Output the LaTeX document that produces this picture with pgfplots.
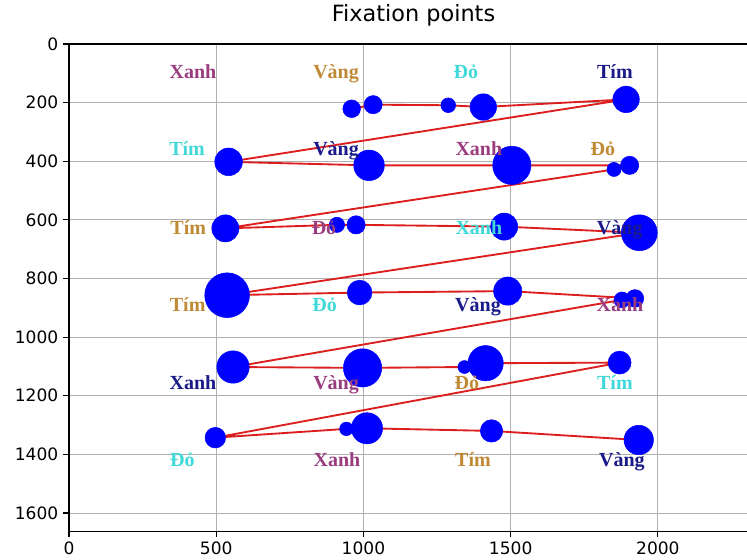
\documentclass[border=0pt]{standalone}
\usepackage{fontspec}
\setmainfont{DejaVu Sans}
\newfontfamily\tnr{Liberation Serif}
\usepackage{pgfplots}
\usepackage{pgfplotstable}
\pgfplotsset{compat=1.18}
\definecolor{mauve}{RGB}{154,61,126}
\definecolor{tanw}{RGB}{192,138,53}
\definecolor{cyanw}{RGB}{64,216,216}
\definecolor{navyw}{RGB}{26,26,138}
\definecolor{redl}{RGB}{220,30,30}
\definecolor{gridc}{RGB}{176,176,176}

\pgfplotstableread{
x y r
960 221 30
1033 207 31
1288 209 25
1407 215 45
1892 189 45
542 402 47
1019 414 52
1504 414 65
1904 414 31
1851 428 24
531 629 46
910 617 26
975 617 31
1478 623 46
1937 644 61
537 857 76
987 848 42
1490 843 48
1922 868 30
1878 873 27
557 1102 55
997 1105 65
1343 1102 22
1415 1089 60
1870 1087 39
497 1343 35
942 1313 23
1012 1311 53
1435 1320 38
1935 1351 50
}\fix

\pgfplotstableread{
x y w
421 117 Xanh
1392 381 Xanh
866 649 Đỏ
1871 911 Xanh
907 1179 Vàng
910 1443 Xanh
}\wmauve
\pgfplotstableread{
x y w
907 117 Vàng
1813 381 Đỏ
405 649 Tím
403 911 Tím
1351 1179 Đỏ
1372 1443 Tím
}\wtan
\pgfplotstableread{
x y w
1348 117 Đỏ
401 381 Tím
1392 649 Xanh
868 911 Đỏ
1854 1179 Tím
385 1443 Đỏ
}\wcyan
\pgfplotstableread{
x y w
1854 117 Tím
907 381 Vàng
1870 649 Vàng
1389 911 Vàng
421 1179 Xanh
1878 1443 Vàng
}\wnavy

\begin{document}
\begin{tikzpicture}
\begin{axis}[
  set layers,
  scale only axis,
  width=516.75pt, height=365.6pt,
  xmin=0, xmax=2340, ymin=0, ymax=1663,
  y dir=reverse,
  xtick={0,500,1000,1500,2000},
  ytick={0,200,400,600,800,1000,1200,1400,1600},
  grid=major,
  major grid style={gridc, line width=0.6pt},
  axis line style={black, line width=0.9pt},
  tick align=outside,
  major tick length=4.5pt,
  tick style={black, line width=0.8pt},
  xtick pos=left, ytick pos=left,
  ticklabel style={font=\fontsize{12.8}{12.8}\selectfont},
  /pgf/number format/assume math mode=true,
  /pgf/number format/1000 sep={},
  title={Fixation points},
  title style={font=\fontsize{16.8}{16.8}\selectfont, at={(0.5,1)}, anchor=base, yshift=10.5pt},
  clip=true,
]
\addplot[scatter, only marks, mark=*, on layer=axis background,
  scatter/use mapped color={draw=blue, fill=blue},
  visualization depends on={0.2208*\thisrow{r} \as \rad},
  scatter/@pre marker code/.append style={/tikz/mark size=\rad}]
  table[x=x, y=y] {\fix};
\addplot[only marks, mark=none, on layer=axis background, point meta=explicit symbolic,
  nodes near coords, nodes near coords style={anchor=base, text=mauve, font=\tnr\bfseries\fontsize{15}{15}\selectfont, inner sep=0pt}]
  table[x=x, y=y, meta=w] {\wmauve};
\addplot[only marks, mark=none, on layer=axis background, point meta=explicit symbolic,
  nodes near coords, nodes near coords style={anchor=base, text=tanw, font=\tnr\bfseries\fontsize{15}{15}\selectfont, inner sep=0pt}]
  table[x=x, y=y, meta=w] {\wtan};
\addplot[only marks, mark=none, on layer=axis background, point meta=explicit symbolic,
  nodes near coords, nodes near coords style={anchor=base, text=cyanw, font=\tnr\bfseries\fontsize{15}{15}\selectfont, inner sep=0pt}]
  table[x=x, y=y, meta=w] {\wcyan};
\addplot[only marks, mark=none, on layer=axis background, point meta=explicit symbolic,
  nodes near coords, nodes near coords style={anchor=base, text=navyw, font=\tnr\bfseries\fontsize{15}{15}\selectfont, inner sep=0pt}]
  table[x=x, y=y, meta=w] {\wnavy};
\addplot[redl, line width=1.4pt, no marks] table[x=x, y=y] {\fix};
\coordinate (BBnw) at (axis description cs:0,1);
\coordinate (BBse) at (axis description cs:1,0);
\end{axis}
\pgfresetboundingbox
\path[use as bounding box] ([shift={(-51.75pt,33pt)}]BBnw) rectangle ([shift={(-8.25pt,-21.4pt)}]BBse);
\end{tikzpicture}
\end{document}
